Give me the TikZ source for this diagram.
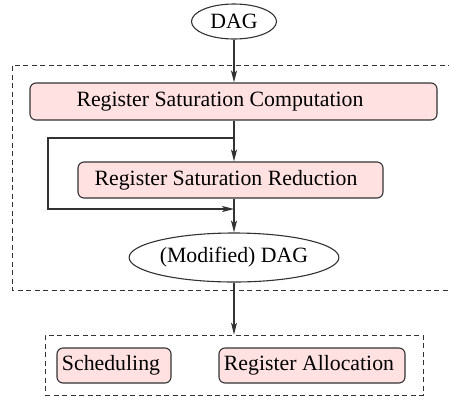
\documentclass[tikz,border=0pt]{standalone}
\usepackage{fontspec}
\setmainfont{Liberation Serif}
\usetikzlibrary{arrows.meta,shapes.geometric}
\definecolor{boxfill}{RGB}{255,225,225}
\definecolor{lin}{RGB}{50,50,50}
\begin{document}
\begin{tikzpicture}[x=1pt,y=-1pt,
  every node/.style={font=\fontsize{21.8}{24}\selectfont},
  procbox/.style={draw=lin,line width=1.1pt,fill=boxfill,rounded corners=6pt,inner sep=0pt},
  oval/.style={draw=lin,line width=1.1pt,ellipse,inner sep=0pt},
  conn/.style={draw=lin,line width=1.1pt},
  arr/.style={conn,-{Stealth[length=12pt,width=6pt,inset=3pt]}},
  grp/.style={draw=lin,line width=0.9pt,dash pattern=on 5pt off 3.5pt}]
\useasboundingbox (0,0) rectangle (449,400);
\clip (0,0) rectangle (449,400);
\node[oval,minimum width=85pt,minimum height=35pt] (dag) at (234,21.5) {DAG};
\node[procbox,minimum width=407pt,minimum height=37pt] (rsc) at (233.5,101.5) {Register Saturation Computation\kern27pt};
\node[procbox,minimum width=305pt,minimum height=36pt] (rsr) at (230.5,180) {Register Saturation Reduction\kern9pt};
\node[oval,minimum width=181pt,minimum height=49pt] (mdag) at (234,257.5) {(Modified) DAG};
\node[grp,minimum width=378pt,minimum height=60pt] (low) at (234,365) {};
\node[procbox,minimum width=114pt,minimum height=35pt] (sch) at (114,365.5) {Scheduling\kern6pt};
\node[procbox,minimum width=186pt,minimum height=35pt] (ra) at (312,365.5) {Register Allocation\kern6pt};
\draw[grp] (470,65) -- (12,65) -- (12,290) -- (470,290);
\coordinate (j1) at (234,138);
\coordinate (k1) at (48,138);
\coordinate (k2) at (48,209);
\coordinate (j2) at (234,209);
\draw[arr] (dag.south) -- (dag.south |- rsc.north);
\draw[arr] (dag.south |- rsc.south) -- (dag.south |- rsr.north);
\draw[arr] (j1) -- (k1) -- (k2) -- (j2);
\draw[arr] (dag.south |- rsr.south) -- (mdag.north);
\draw[arr] (mdag.south) -- (low.north);
\end{tikzpicture}
\end{document}
